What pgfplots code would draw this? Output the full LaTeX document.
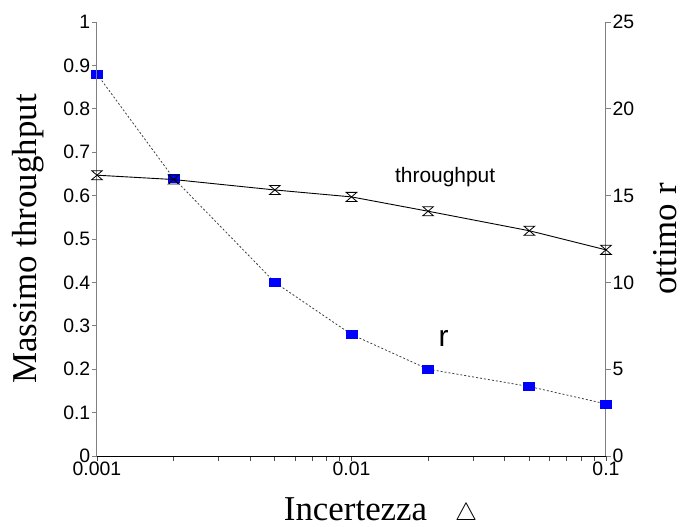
\documentclass[border=0pt]{standalone}
\usepackage{fontspec}
\setmainfont{Liberation Serif}
\setsansfont{Liberation Sans}
\usepackage{pgfplots}
\pgfplotsset{compat=1.18}

% hourglass marker: top bar, diagonal, bottom bar, diagonal
\pgfdeclareplotmark{hourglass}{%
  \pgfpathmoveto{\pgfpoint{-\pgfplotmarksize}{\pgfplotmarksize}}%
  \pgfpathlineto{\pgfpoint{\pgfplotmarksize}{\pgfplotmarksize}}%
  \pgfpathlineto{\pgfpoint{-\pgfplotmarksize}{-\pgfplotmarksize}}%
  \pgfpathlineto{\pgfpoint{\pgfplotmarksize}{-\pgfplotmarksize}}%
  \pgfpathclose
  \pgfusepathqstroke}

\begin{document}
\begin{tikzpicture}
% right axis: optimal r
\begin{axis}[
  width=509bp, height=434bp, scale only axis,
  xmode=log, xmin=0.001, xmax=0.1,
  clip=false, tick align=outside,
  major tick length=5bp,
  ticklabel style={font=\fontsize{19.5}{22}\sffamily},
  /pgf/number format/assume math mode=true,
  label style={font=\fontsize{35}{38}\selectfont},
  hide x axis,
  axis y line*=right,
  y axis line style={gray, line width=1bp, -},
  ytick style={gray, line width=0.8bp},
  ymin=0, ymax=25,
  ytick={0,5,10,15,20,25},
  yticklabels={0,5,10,15,20,25},
  yticklabel style={inner sep=1.5bp},
  ylabel={ottimo r},
  ylabel style={at={(axis description cs:1.116,0.5)}, anchor=center},
]
\addplot[gray!50!black, line width=0.8bp, dash pattern=on 2bp off 2bp,
  mark=square*, mark size=5.5bp,
  mark options={solid, fill=blue, draw=blue, yscale=0.73}]
  coordinates {(0.001,22) (0.002,16) (0.005,10) (0.01,7) (0.02,5) (0.05,4) (0.1,3)};
\end{axis}
% left axis: maximum throughput
\begin{axis}[name=main,
  width=509bp, height=434bp, scale only axis,
  xmode=log, xmin=0.001, xmax=0.1,
  clip=false, tick align=outside,
  major tick length=5bp, minor tick length=5bp,
  ticklabel style={font=\fontsize{19.5}{22}\sffamily},
  /pgf/number format/assume math mode=true,
  label style={font=\fontsize{35}{38}\selectfont},
  axis x line*=bottom,
  axis y line*=left,
  x axis line style={black, line width=1bp, -},
  y axis line style={gray, line width=1bp, -},
  xtick style={black!70, line width=0.8bp},
  ytick style={gray, line width=0.8bp},
  ymin=0, ymax=1,
  xtick={0.001,0.01,0.1},
  xticklabels={0.001,0.01,0.1},
  minor xtick={0.002,0.003,0.004,0.005,0.006,0.007,0.008,0.009,
               0.02,0.03,0.04,0.05,0.06,0.07,0.08,0.09},
  xticklabel style={inner sep=0.5bp},
  ytick={0,0.1,0.2,0.3,0.4,0.5,0.6,0.7,0.8,0.9,1},
  yticklabels={0,0.1,0.2,0.3,0.4,0.5,0.6,0.7,0.8,0.9,1},
  yticklabel style={inner sep=1.5bp},
  xlabel={Incertezza\hspace{0.8em}$\bigtriangleup$},
  xlabel style={at={(axis description cs:0.557,0)}, anchor=base, yshift=-64bp},
  ylabel={Massimo throughput},
  ylabel style={at={(axis description cs:-0.1356,0.5)}, anchor=center},
]
\addplot[black, line width=0.9bp, mark=hourglass, mark size=5.3bp,
  mark options={yscale=0.85, line width=0.8bp}]
  coordinates {(0.001,0.647) (0.002,0.637) (0.005,0.613) (0.01,0.597) (0.02,0.564) (0.05,0.519) (0.1,0.475)};
\node[font=\fontsize{21}{24}\sffamily] at (rel axis cs:0.684,0.642) {throughput};
\node[font=\fontsize{30}{32}\sffamily] at (rel axis cs:0.681,0.271) {r};
\end{axis}
\pgfresetboundingbox
\path ([shift={(-97bp,-71bp)}]main.south west) rectangle ([shift={(77bp,22bp)}]main.north east);
\end{tikzpicture}
\end{document}
